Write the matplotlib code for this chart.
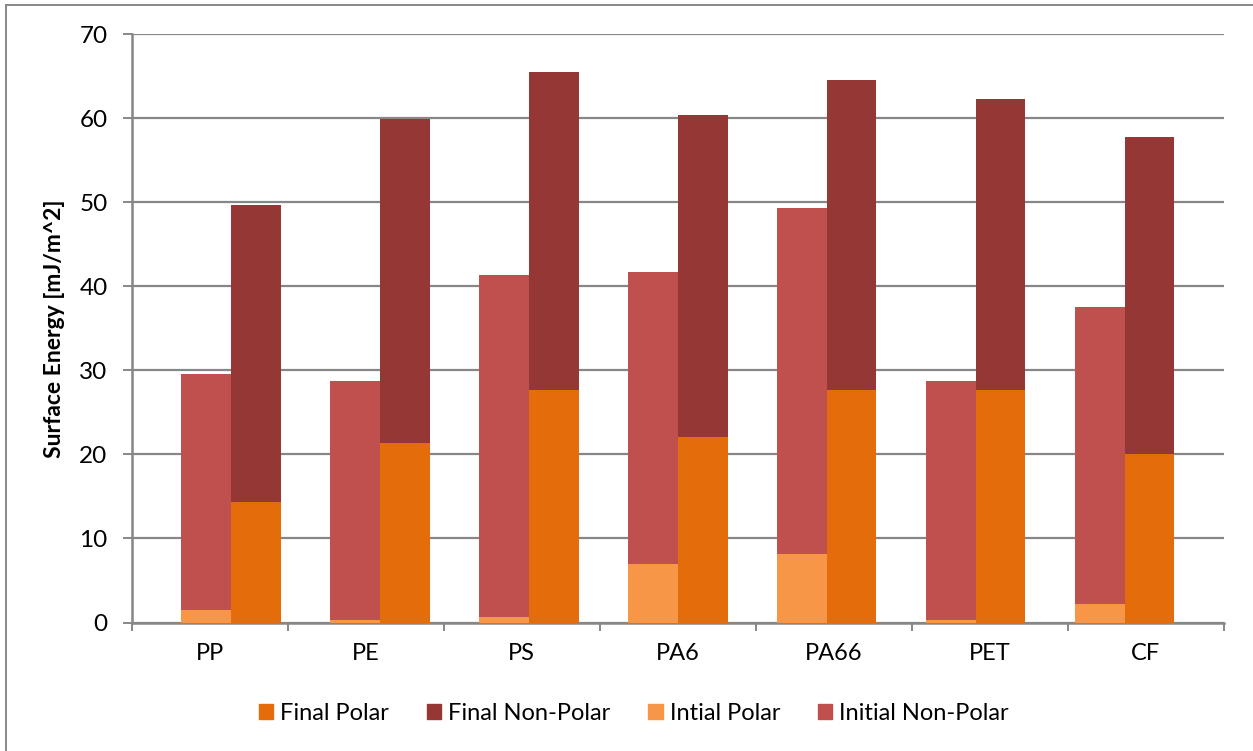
import numpy as np
import matplotlib.pyplot as plt
from matplotlib.lines import Line2D

plt.rcParams['font.family'] = ['Lato', 'DejaVu Sans']

materials = ['PP', 'PE', 'PS', 'PA6', 'PA66', 'PET', 'CF']

# surface energy components in mJ/m^2
initial_polar = [1.5, 0.3, 0.7, 7.0, 8.2, 0.3, 2.2]
initial_nonpolar = [28.1, 28.4, 40.7, 34.7, 41.1, 28.4, 35.4]
final_polar = [14.3, 21.4, 27.7, 22.1, 27.7, 27.7, 20.1]
final_nonpolar = [35.4, 38.5, 37.8, 38.3, 36.9, 34.6, 37.7]

c_final_polar = '#E46C0A'
c_final_nonpolar = '#953735'
c_init_polar = '#F79646'
c_init_nonpolar = '#C0504D'
grid_col = '#878787'

W, H = 1253, 751
fig = plt.figure(figsize=(W / 100, H / 100), dpi=100)
ax = fig.add_axes([131.8 / W, 1 - 622.5 / H, (1224 - 131.8) / W, (622.5 - 34.3) / H])

n = len(materials)
# each material gets three slots: blank, initial, final
slot = n / (3 * n + 1)
idx = np.arange(n)
x_init = (3 * idx + 1) * slot
x_final = (3 * idx + 2) * slot

ax.bar(x_init, initial_polar, width=slot, align='edge', color=c_init_polar, zorder=3)
ax.bar(x_init, initial_nonpolar, width=slot, align='edge', bottom=initial_polar,
       color=c_init_nonpolar, zorder=3)
ax.bar(x_final, final_polar, width=slot, align='edge', color=c_final_polar, zorder=3)
ax.bar(x_final, final_nonpolar, width=slot, align='edge', bottom=final_polar,
       color=c_final_nonpolar, zorder=3)

ax.set_xlim(0, n)
ax.set_ylim(0, 70)
ax.set_yticks(np.arange(0, 71, 10))
ax.yaxis.grid(True, color=grid_col, linewidth=1.6, zorder=0)
ax.set_axisbelow(True)

ax.set_xticks(np.arange(0, n + 1))
ax.set_xticklabels([])
ax.set_xticks(idx + 0.5, minor=True)
ax.set_xticklabels(materials, minor=True)
ax.tick_params(axis='x', which='major', length=6, width=1.4, color=grid_col)
ax.tick_params(axis='x', which='minor', length=0, pad=15, labelsize=17)
ax.tick_params(axis='y', length=6.5, width=1.4, color=grid_col, pad=11, labelsize=17.5)

for s in ['top', 'right']:
    ax.spines[s].set_visible(False)
for s in ['left', 'bottom']:
    ax.spines[s].set_color(grid_col)
    ax.spines[s].set_linewidth(1.8)

ax.set_ylabel('Surface Energy [mJ/m^2]', fontsize=16.5, fontweight='bold', labelpad=10)

handles = [plt.Rectangle((0, 0), 1, 1, color=c) for c in
           [c_final_polar, c_final_nonpolar, c_init_polar, c_init_nonpolar]]
labels = ['Final Polar', 'Final Non-Polar', 'Intial Polar', 'Initial Non-Polar']
fig.legend(handles, labels, loc='center', bbox_to_anchor=(634 / W, 1 - 713 / H), ncol=4,
           frameon=False, fontsize=17, handlelength=0.6, handleheight=0.6,
           handletextpad=0.3, columnspacing=1.6)

# chart frame
fig.add_artist(Line2D([6 / W, 6 / W], [0, 1 - 5 / H], color=grid_col, linewidth=1.4))
fig.add_artist(Line2D([6 / W, 1], [1 - 5 / H, 1 - 5 / H], color=grid_col, linewidth=1.4))

fig.savefig('out.png', dpi=100)
